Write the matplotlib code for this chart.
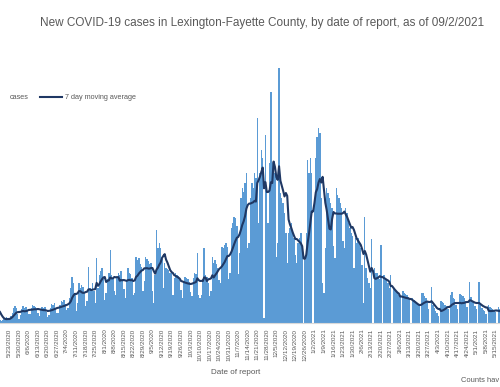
import matplotlib
matplotlib.use("Agg")
import matplotlib.pyplot as plt
import matplotlib.dates as mdates
from matplotlib.lines import Line2D
import pandas as pd

# daily reported cases, one row per week (Sun..Sat), starting 5/10/2020
first_day = "2020-05-10"
new_cases = [
    40, 36, 30, 20, 14, 8, 6,
    4, 6, 8, 10, 12, 10, 6,
    14, 20, 30, 34, 30, 18, 8,
    16, 28, 34, 30, 32, 24, 18,
    18, 30, 36, 34, 32, 26, 20,
    14, 26, 32, 30, 32, 22, 12,
    16, 30, 38, 36, 40, 30, 20,
    20, 36, 44, 42, 46, 38, 26,
    30, 50, 70, 92, 80, 60, 24,
    40, 80, 70, 76, 72, 62, 34,
    44, 112, 70, 66, 80, 64, 40,
    130, 70, 96, 104, 110, 88, 46,
    60, 88, 100, 146, 96, 90, 64,
    56, 90, 100, 96, 104, 88, 68,
    50, 84, 110, 100, 98, 90, 56,
    60, 132, 126, 130, 118, 112, 64,
    84, 132, 128, 124, 118, 120, 64,
    40, 96, 186, 150, 160, 150, 128,
    70, 120, 110, 108, 106, 100, 100,
    56, 90, 100, 96, 94, 86, 66,
    50, 82, 92, 90, 88, 82, 62,
    54, 90, 100, 98, 140, 56, 50,
    56, 88, 150, 96, 92, 80, 54,
    64, 132, 120, 126, 118, 110, 86,
    80, 152, 150, 156, 160, 152, 88,
    100, 190, 200, 212, 210, 194, 98,
    140, 250, 270, 262, 280, 300, 150,
    160, 250, 280, 270, 300, 290, 410,
    200, 300, 346, 330, 10, 376, 272,
    200, 320, 462, 320, 310, 300, 132,
    160, 510, 260, 250, 240, 220, 180,
    120, 180, 190, 200, 180, 170, 136,
    120, 160, 170, 180, 140, 0, 126,
    180, 326, 300, 330, 300, 0, 244,
    330, 372, 390, 380, 250, 80, 60,
    150, 270, 260, 250, 240, 230, 154,
    130, 270, 256, 250, 240, 230, 164,
    150, 230, 220, 200, 190, 180, 174,
    110, 170, 160, 170, 160, 150, 116,
    40, 212, 110, 90, 80, 70, 168,
    0, 110, 100, 100, 90, 88, 156,
    0, 96, 90, 86, 80, 70, 96,
    0, 70, 66, 64, 60, 56, 55,
    0, 64, 60, 58, 56, 52, 46,
    0, 50, 46, 44, 40, 38, 34,
    0, 60, 60, 54, 50, 42, 28,
    0, 72, 36, 30, 24, 20, 14,
    0, 44, 42, 40, 36, 34, 28,
    0, 56, 62, 50, 48, 36, 28,
    0, 58, 56, 54, 50, 44, 32,
    0, 82, 52, 44, 40, 34, 28,
    0, 82, 36, 30, 26, 24, 19,
    0, 36, 32, 30, 28, 26, 23,
    0, 32, 28, 26, 26, 22, 20,
]
title = "New COVID-19 cases in Lexington-Fayette County, by date of report, as of 09/2/2021"

dates = pd.date_range(first_day, periods=len(new_cases), freq="D")
moving_avg = pd.Series(new_cases, index=dates).rolling(7).mean()

bar_color = "#5B9BD5"
line_color = "#1F3864"
text_color = "#595959"
font = "Liberation Sans"

fig = plt.figure(figsize=(5, 3.87), dpi=100)
ax = fig.add_axes([0, 64 / 387, 1, 263 / 387])

ax.bar(dates, new_cases, width=1.0, color=bar_color, linewidth=0)
ax.plot(dates, moving_avg, color=line_color, linewidth=1.5)

left = mdates.date2num(pd.Timestamp("2020-05-16"))
ax.set_xlim(left + 0.02, left + 367.3)
ax.set_ylim(0, 526)

tick_dates = pd.date_range("2020-05-23", "2021-05-15", freq="7D")
ax.set_xticks(tick_dates)
ax.set_xticklabels([f"{d.month}/{d.day}/{d.year}" for d in tick_dates],
                   rotation=90, fontsize=4.6, color=text_color, family=font)
ax.tick_params(axis="x", length=0, pad=4)
ax.set_yticks([])
for side in ["top", "left", "right"]:
    ax.spines[side].set_visible(False)
ax.spines["bottom"].set_color("#D9D9D9")
ax.spines["bottom"].set_linewidth(0.8)

fig.text(0.525, 1 - 23 / 387, title, ha="center", va="center",
         fontsize=8.45, color=text_color, family=font)

# legend, cut at the left edge like the source
leg_y = 1 - 97 / 387
fig.text(29 / 500, leg_y, "cases", ha="right", va="center",
         fontsize=5.2, color=text_color, family=font)
fig.add_artist(Line2D([40 / 500, 62 / 500], [leg_y, leg_y], transform=fig.transFigure,
                      color=line_color, linewidth=1.5))
fig.text(65 / 500, leg_y, "7 day moving average", ha="left", va="center",
         fontsize=5.2, color=text_color, family=font)

fig.text(236 / 500, 1 - 372 / 387, "Date of report", ha="center", va="center",
         fontsize=5.8, color=text_color, family=font)
fig.text(499 / 500, 1 - 380 / 387, "Counts hav", ha="right", va="center",
         fontsize=5.4, color=text_color, family=font)

fig.savefig("out.png", dpi=100)
